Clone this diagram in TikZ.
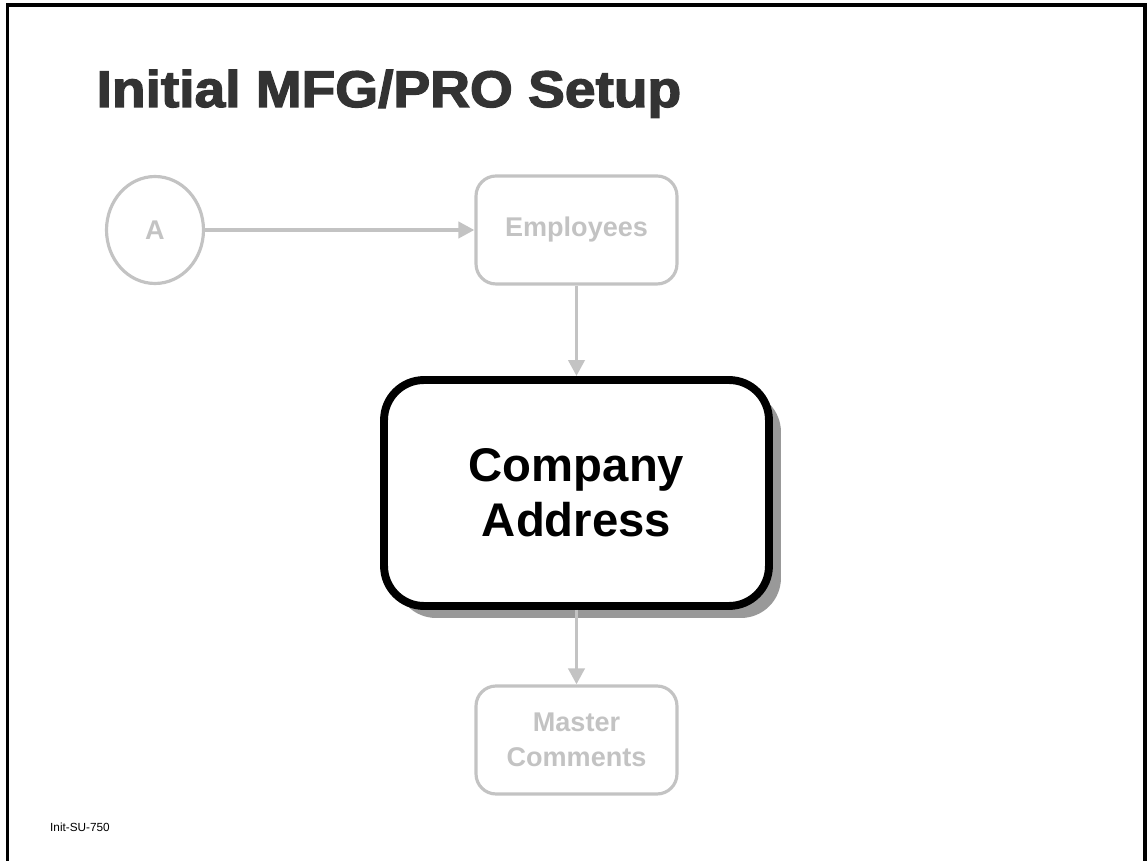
\documentclass[tikz,border=0pt]{standalone}
\usepackage{fontspec}
\setmainfont{Liberation Sans}
\newfontfamily\titlefont[FakeBold=2.5]{Liberation Sans Bold}
\usepackage{xcolor}
\usetikzlibrary{arrows.meta}
\usetikzlibrary{positioning, shapes.geometric, shadows}

\definecolor{faded}{HTML}{C3C3C3}
\definecolor{titlegray}{HTML}{333333}
\definecolor{shadowgray}{HTML}{999999}

\tikzset{
    fadedbox/.style={draw=faded, line width=1.8pt, rounded corners=0.4cm, minimum width=4.02cm,
        minimum height=2.16cm, align=center, text=faded, font=\fontsize{15.4}{19.8}\selectfont\bfseries},
    mainbox/.style={draw=black, fill=white, line width=4.5pt, rounded corners=0.8cm, minimum width=7.7cm,
        minimum height=4.52cm, align=center, font=\fontsize{26.9}{31.2}\selectfont\bfseries,
        drop shadow={shadow xshift=0.24cm, shadow yshift=-0.24cm, fill=shadowgray, opacity=1}},
    flow/.style={draw=faded, line width=2.2pt, -{Triangle[length=0.32cm, width=0.32cm]}, color=faded}
}

\begin{document}
\begin{tikzpicture}[x=0.02cm, y=-0.02cm]
    \useasboundingbox (0,0) rectangle (1147,861);
    \draw[line width=2pt] (7.5,870) -- (7.5,5) -- (1145,5) -- (1145,870); % slide frame

    \node[anchor=base west, text=titlegray, xscale=1.07, font=\fontsize{29.3}{34}\titlefont] (title) at (90,107) {Initial MFG/PRO Setup};

    \node[ellipse, draw=faded, line width=1.8pt, minimum width=1.94cm, minimum height=2.14cm, inner sep=0pt,
        text=faded, font=\fontsize{15.4}{19.8}\selectfont\bfseries] (a) at (155,230) {A};
    \node[fadedbox] (emp) at (576.5,230) {Employees};
    \node[mainbox] (addr) at (576.5,493) {Company\\Address};
    \node[fadedbox] (cmt) at (576.5,740) {Master\\Comments};

    \draw[flow] (a) -- (emp);
    \draw[flow] (emp) -- (addr);
    \draw[flow] (addr) -- (cmt);

    \node[anchor=west, font=\fontsize{6.7}{8}\selectfont] (code) at (44,827) {Init-SU-750};
\end{tikzpicture}
\end{document}
